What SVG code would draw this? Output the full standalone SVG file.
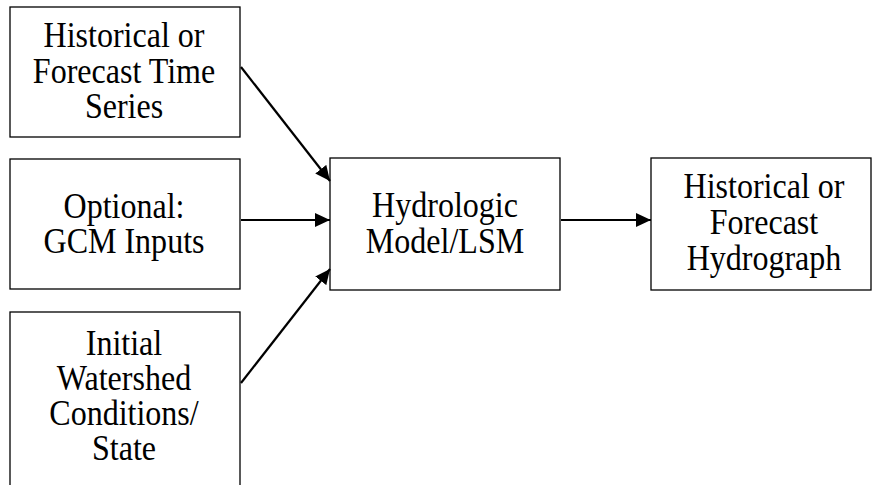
<svg xmlns="http://www.w3.org/2000/svg" width="872" height="485" viewBox="0 0 872 485">
<style>
.box{fill:#fff;stroke:#000;stroke-width:1.3}
.t{font-family:"Liberation Serif","Times New Roman",serif;font-size:35px;fill:#000;text-anchor:middle}
.c{stroke:#000;stroke-width:2.2;fill:none;marker-end:url(#ah)}
</style>
<defs>
<marker id="ah" markerUnits="userSpaceOnUse" markerWidth="16" markerHeight="15" refX="15" refY="7" orient="auto">
<path d="M0,0 L15,7 L0,14 z" fill="#000"/>
</marker>
</defs>
<rect width="872" height="485" fill="#fff"/>
<g id="n1">
<rect class="box" x="10" y="7" width="230" height="130"/>
<text class="t" transform="translate(124,47) scale(0.915,1)">Historical or</text>
<text class="t" transform="translate(124,83) scale(0.915,1)">Forecast Time</text>
<text class="t" transform="translate(124,118) scale(0.915,1)">Series</text>
</g>
<g id="n2">
<rect class="box" x="10" y="159" width="230" height="130"/>
<text class="t" transform="translate(124,218) scale(0.915,1)">Optional:</text>
<text class="t" transform="translate(124,253) scale(0.915,1)">GCM Inputs</text>
</g>
<g id="n3">
<rect class="box" x="10" y="312" width="230" height="180"/>
<text class="t" transform="translate(124,355) scale(0.915,1)">Initial</text>
<text class="t" transform="translate(124,390) scale(0.915,1)">Watershed</text>
<text class="t" transform="translate(124,425) scale(0.915,1)">Conditions/</text>
<text class="t" transform="translate(124,460) scale(0.915,1)">State</text>
</g>
<g id="n4">
<rect class="box" x="330" y="158" width="230" height="132"/>
<text class="t" transform="translate(445,217) scale(0.915,1)">Hydrologic</text>
<text class="t" transform="translate(445,253) scale(0.915,1)">Model/LSM</text>
</g>
<g id="n5">
<rect class="box" x="651" y="158" width="220" height="132"/>
<text class="t" transform="translate(764,198) scale(0.915,1)">Historical or</text>
<text class="t" transform="translate(764,234) scale(0.915,1)">Forecast</text>
<text class="t" transform="translate(764,270) scale(0.915,1)">Hydrograph</text>
</g>
<g id="connectors">
<line class="c" x1="241" y1="67" x2="330" y2="181"/>
<line class="c" x1="241" y1="220" x2="330" y2="220"/>
<line class="c" x1="241" y1="383" x2="330" y2="269"/>
<line class="c" x1="561" y1="220" x2="651" y2="220"/>
</g>
</svg>
